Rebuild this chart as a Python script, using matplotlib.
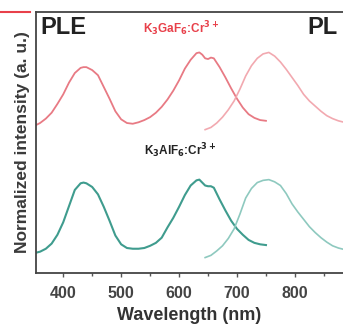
import matplotlib
matplotlib.use("Agg")
import matplotlib.pyplot as plt
from matplotlib.lines import Line2D
from matplotlib.ticker import MultipleLocator

plt.rcParams['font.family'] = ['Liberation Sans', 'DejaVu Sans']

# ---- data (normalized intensities) ----
ple_wl = [350, 360, 370, 380, 390, 400, 410, 420, 430, 435, 440, 450, 460, 470, 480,
          490, 500, 510, 520, 530, 540, 550, 560, 570, 580, 590, 600, 610, 620, 630,
          635, 640, 645, 650, 655, 660, 670, 680, 690, 700, 710, 720, 730, 740, 750]
ga_ple = [0.00, 0.04, 0.10, 0.18, 0.30, 0.43, 0.59, 0.72, 0.79, 0.80, 0.80, 0.76, 0.69, 0.53, 0.37,
          0.20, 0.09, 0.04, 0.03, 0.05, 0.08, 0.12, 0.18, 0.26, 0.36, 0.48, 0.62, 0.78, 0.90, 0.99,
          1.00, 0.97, 0.92, 0.91, 0.93, 0.92, 0.80, 0.66, 0.51, 0.37, 0.25, 0.16, 0.11, 0.08, 0.07]
al_ple = [0.00, 0.02, 0.06, 0.13, 0.25, 0.42, 0.64, 0.86, 0.95, 0.96, 0.95, 0.90, 0.80, 0.63, 0.44,
          0.24, 0.12, 0.07, 0.06, 0.06, 0.07, 0.10, 0.14, 0.21, 0.35, 0.48, 0.63, 0.79, 0.92, 0.99,
          1.00, 0.96, 0.92, 0.91, 0.91, 0.89, 0.73, 0.58, 0.44, 0.33, 0.25, 0.18, 0.14, 0.12, 0.11]

pl_wl = [645, 655, 665, 675, 685, 695, 705, 715, 725, 735, 745, 755, 765,
         775, 785, 795, 805, 815, 825, 835, 845, 855, 865, 875, 885]
ga_pl = [-0.05, -0.02, 0.04, 0.12, 0.22, 0.34, 0.50, 0.68, 0.82, 0.92, 0.98, 1.00, 0.95,
         0.87, 0.77, 0.66, 0.55, 0.43, 0.34, 0.27, 0.20, 0.14, 0.10, 0.07, 0.05]
al_pl = [-0.06, -0.03, 0.03, 0.10, 0.20, 0.33, 0.53, 0.75, 0.88, 0.96, 0.99, 1.00, 0.97,
         0.92, 0.81, 0.67, 0.56, 0.46, 0.36, 0.28, 0.21, 0.15, 0.10, 0.07, 0.05]

ga_offset = 2.0
al_offset = 0.27

xticks = [400, 500, 600, 700, 800]

# ---- figure ----
W, H = 343, 326
fig = plt.figure(figsize=(W / 100, H / 100), dpi=100)
left, right, top, bottom = 36, 343, 12, 273
ax = fig.add_axes([left / W, 1 - bottom / H, (right - left) / W, (bottom - top) / H])

red_ple = '#e87a84'
red_pl = '#f2a9b0'
grn_ple = '#3f9c8e'
grn_pl = '#8ec9bf'

ax.plot(ple_wl, [v + ga_offset for v in ga_ple], color=red_ple, lw=1.3)
ax.plot(pl_wl, [v + ga_offset for v in ga_pl], color=red_pl, lw=1.2)
ax.plot(ple_wl, [v + al_offset for v in al_ple], color=grn_ple, lw=1.5)
ax.plot(pl_wl, [v + al_offset for v in al_pl], color=grn_pl, lw=1.2)

ax.set_xlim(353, 883)
ax.set_ylim(0, 3.55)
ax.set_xticks(xticks)
ax.xaxis.set_minor_locator(MultipleLocator(50))
ax.set_yticks([])
ax.tick_params(axis='x', which='major', direction='out', length=3, width=1, colors='#555555',
               labelsize=11.5, labelcolor='#444444', pad=6)
ax.tick_params(axis='x', which='minor', direction='out', length=2, width=1, colors='#555555')
for lbl in ax.get_xticklabels():
    lbl.set_fontweight('bold')

for s in ['left', 'bottom', 'top']:
    ax.spines[s].set_color('#444444')
    ax.spines[s].set_linewidth(1.3)
ax.spines['right'].set_visible(False)

ax.set_xlabel('Wavelength (nm)', fontsize=13, fontweight='bold', color='#333333', labelpad=5)
ax.set_ylabel('Normalized intensity (a. u.)', fontsize=12.5, fontweight='bold', color='#3a3a3a',
              labelpad=4)

ax.text(0.013, 0.94, 'PLE', transform=ax.transAxes, fontsize=17, fontweight='bold',
        color='#222222', ha='left', va='center')
ax.text(0.885, 0.94, 'PL', transform=ax.transAxes, fontsize=17, fontweight='bold',
        color='#222222', ha='left', va='center')
ax.text(0.472, 0.935, r'K$_\mathbf{3}$GaF$_\mathbf{6}$:Cr$^\mathbf{3+}$', transform=ax.transAxes,
        fontsize=8.5, fontweight='bold', color='#e8404a', ha='center', va='center')
ax.text(0.468, 0.47, r'K$_\mathbf{3}$AlF$_\mathbf{6}$:Cr$^\mathbf{3+}$', transform=ax.transAxes,
        fontsize=8.5, fontweight='bold', color='#222222', ha='center', va='center')

# fragment of neighbouring panel at top-left
fig.add_artist(Line2D([0, 30 / W], [1 - 12 / H, 1 - 12 / H], color='#e8404a', lw=1.5))

fig.savefig('out.png', dpi=100)
